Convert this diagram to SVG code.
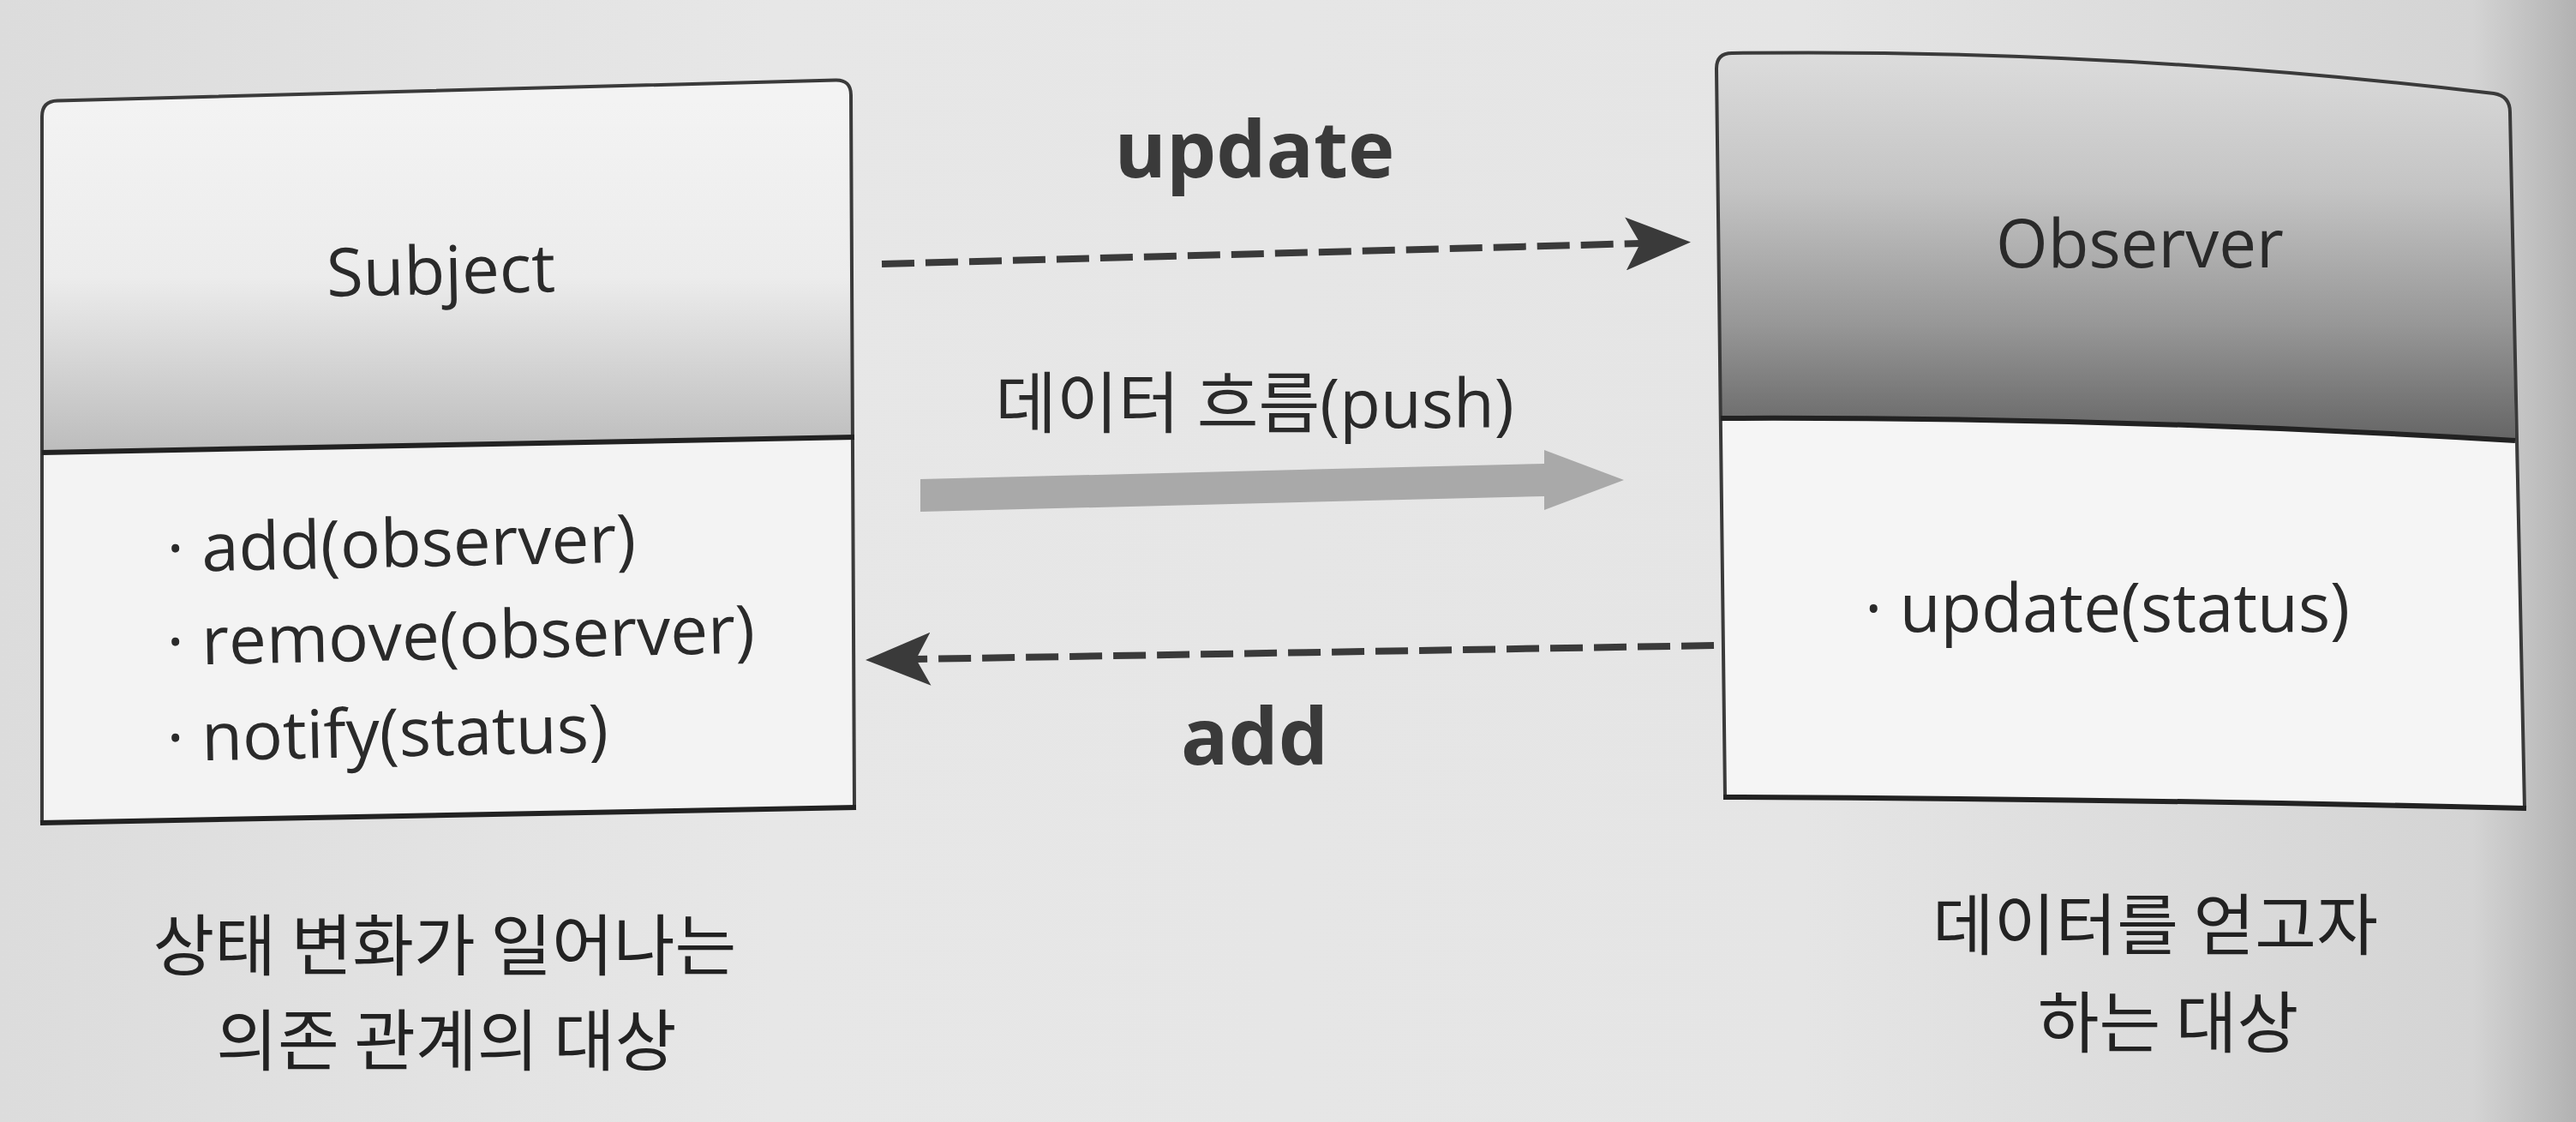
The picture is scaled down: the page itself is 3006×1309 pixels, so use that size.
<svg xmlns="http://www.w3.org/2000/svg" width="3006" height="1309" viewBox="0 0 3006 1309">
<style>
.lat{font-family:"Open Sans","Noto Sans CJK KR",sans-serif;fill:#2a2a2a}
.title{font-size:78px}
.method{font-size:78px}
.bold{font-weight:700;font-size:92px;fill:#3a3a3a;text-anchor:middle}
.mid{text-anchor:middle}
.kr{font-family:"Noto Sans CJK KR",sans-serif;font-size:78px;fill:#222;text-anchor:middle}
.edge{fill:none;stroke:#3a3a3a;stroke-width:4;stroke-linejoin:round}
.div{fill:none;stroke:#222;stroke-width:6}
.dash{fill:none;stroke:#3a3a3a;stroke-width:8;stroke-dasharray:38 13}
</style>
<defs>
<linearGradient id="bg" x1="0" y1="0" x2="1" y2="0">
<stop offset="0" stop-color="#dcdcdc"/>
<stop offset="0.3" stop-color="#e7e7e7"/>
<stop offset="0.7" stop-color="#e5e5e5"/>
<stop offset="0.96" stop-color="#d4d4d4"/>
<stop offset="1" stop-color="#b2b2b2"/>
</linearGradient>
<linearGradient id="subjHead" gradientUnits="userSpaceOnUse" x1="0" y1="118" x2="0" y2="528">
<stop offset="0" stop-color="#f3f3f3"/>
<stop offset="0.5" stop-color="#ececec"/>
<stop offset="1" stop-color="#bcbcbc"/>
</linearGradient>
<linearGradient id="obsHead" gradientUnits="userSpaceOnUse" x1="0" y1="62" x2="0" y2="514">
<stop offset="0" stop-color="#dcdcdc"/>
<stop offset="0.35" stop-color="#c4c4c4"/>
<stop offset="0.7" stop-color="#979797"/>
<stop offset="1" stop-color="#656565"/>
</linearGradient>
<marker id="barb" markerUnits="userSpaceOnUse" viewBox="0 0 76 62" markerWidth="76" markerHeight="62" refX="17" refY="31" orient="auto">
<path d="M76,31 L0,0 L17,31 L0,62 Z" fill="#3a3a3a"/>
</marker>
</defs>
<rect x="0" y="0" width="3006" height="1309" fill="url(#bg)"/>

<g id="subject">
<path d="M49,528 L49,136 Q49,118 67,117.5 L975,93.5 Q993,93 993,111 L997,510 Z" fill="url(#subjHead)"/>
<path d="M49,528 L997,510 L997,942 L49,960 Z" fill="#f3f3f3"/>
<path class="edge" d="M49,960 L49,136 Q49,118 67,117.5 L975,93.5 Q993,93 993,111 L997,942"/>
<path class="div" d="M49,528 L997,510"/>
<path class="div" d="M47,960 L999,942"/>
<text class="lat title mid" x="515" y="343" transform="rotate(-1.2 515 343)">Subject</text>
<text class="lat method" x="195" y="667" transform="rotate(-1.2 195 667)">· add(observer)</text>
<text class="lat method" x="195" y="776" transform="rotate(-1.2 195 776)">· remove(observer)</text>
<text class="lat method" x="195" y="888" transform="rotate(-1.2 195 888)">· notify(status)</text>
</g>

<g id="observer">
<path d="M2008,488 L2003,80 Q2003,62 2021,62 Q2460,56 2910,109 Q2929,112 2929,131 L2935,514 Q2470,486 2008,488 Z" fill="url(#obsHead)"/>
<path d="M2008,488 Q2470,486 2935,514 L2946,943 Q2480,932 2013,930 Z" fill="#f5f5f5"/>
<path class="edge" d="M2013,930 L2003,80 Q2003,62 2021,62 Q2460,56 2910,109 Q2929,112 2929,131 L2946,943"/>
<path class="div" d="M2008,488 Q2470,486 2935,514"/>
<path class="div" d="M2011,930 Q2480,932 2948,943"/>
<text class="lat title mid" x="2497" y="312">Observer</text>
<text class="lat method" x="2176" y="737">· update(status)</text>
</g>

<g id="connectors">
<line class="dash" x1="1029" y1="308" x2="1914" y2="284" marker-end="url(#barb)"/>
<line class="dash" x1="2000" y1="753" x2="1069" y2="769" marker-end="url(#barb)"/>
<path d="M1074,559 L1802,541 L1802,525 L1895,560 L1802,595 L1802,579 L1074,597 Z" fill="#a9a9a9"/>
<text class="lat bold" x="1464" y="207">update</text>
<text class="lat mid" x="1464" y="499" style="font-size:78px">데이터 흐름(push)</text>
<text class="lat bold" x="1464" y="892">add</text>
</g>

<g id="captions">
<text class="kr" x="519" y="1132">상태 변화가 일어나는</text>
<text class="kr" x="521" y="1243">의존 관계의 대상</text>
<text class="kr" x="2515" y="1108">데이터를 얻고자</text>
<text class="kr" x="2530" y="1222">하는 대상</text>
</g>
</svg>
